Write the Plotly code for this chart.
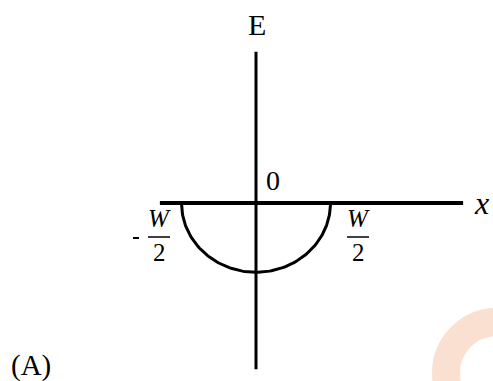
import numpy as np
import plotly.graph_objects as go

# figure geometry (pixels) -> the math coordinates of the sketch
W_PX, H_PX = 493, 381
ORIGIN = (256, 203)
UNIT = 74.5  # pixels per unit of W/2

# data of the sketch, in units of W/2
half_width = 1.0          # well edges at -W/2 and +W/2
well_depth = 0.93         # depth of the semicircular dip
x_axis_span = [-1.29, 2.78]
e_axis_span = [2.03, -2.23]
edge_labels = ["- ", "W", "2"]
axis_labels = ["E", "x", "0", "(A)"]


def px(xp):
    return (xp - ORIGIN[0]) / UNIT


def py(yp):
    return (ORIGIN[1] - yp) / UNIT


theta = np.linspace(np.pi, 2 * np.pi, 121)
curve_x = half_width * np.cos(theta)
curve_y = well_depth * np.sin(theta)

fig = go.Figure()

# watermark ring (bottom right)
fig.add_shape(type="circle", x0=px(497 - 51), x1=px(497 + 51),
              y0=py(373 - 51), y1=py(373 + 51),
              line=dict(color="#fae0d1", width=28), layer="below")

fig.add_trace(go.Scatter(x=x_axis_span, y=[0, 0], mode="lines",
                         line=dict(color="black", width=4), hoverinfo="skip"))
fig.add_trace(go.Scatter(x=[0, 0], y=e_axis_span, mode="lines",
                         line=dict(color="black", width=3), hoverinfo="skip"))
fig.add_trace(go.Scatter(x=curve_x, y=curve_y, mode="lines",
                         line=dict(color="black", width=3), hoverinfo="skip"))

serif = "Liberation Serif"


def label(x, y, text, size, italic=False):
    fig.add_annotation(x=x, y=y, text=text, showarrow=False,
                       xanchor="center", yanchor="middle",
                       font=dict(family=serif, size=size, color="black",
                                 style="italic" if italic else "normal"))


label(px(257), py(24), axis_labels[0], 30)
label(px(481), py(203), axis_labels[1], 32, italic=True)
label(px(273), py(180), axis_labels[2], 28)
label(px(31), py(365), axis_labels[3], 29)

# -W/2 and W/2 fractions
for cx, minus in [(159, True), (358, False)]:
    label(px(cx), py(218), edge_labels[1], 25, italic=True)
    label(px(cx), py(252), edge_labels[2], 25)
    fig.add_shape(type="line", x0=px(cx - 11), x1=px(cx + 11),
                  y0=py(237), y1=py(237),
                  line=dict(color="black", width=1.5))
    if minus:
        fig.add_shape(type="line", x0=px(133), x1=px(139),
                      y0=py(238), y1=py(238),
                      line=dict(color="black", width=2))

fig.update_layout(
    width=W_PX, height=H_PX,
    margin=dict(l=0, r=0, t=0, b=0),
    plot_bgcolor="white", paper_bgcolor="white",
    showlegend=False,
    xaxis=dict(range=[px(0), px(W_PX)], visible=False, fixedrange=True),
    yaxis=dict(range=[py(H_PX), py(0)], visible=False, fixedrange=True),
)

fig.write_html("out.html", config={"displayModeBar": False},
               post_script="document.body.style.margin='0px';")
